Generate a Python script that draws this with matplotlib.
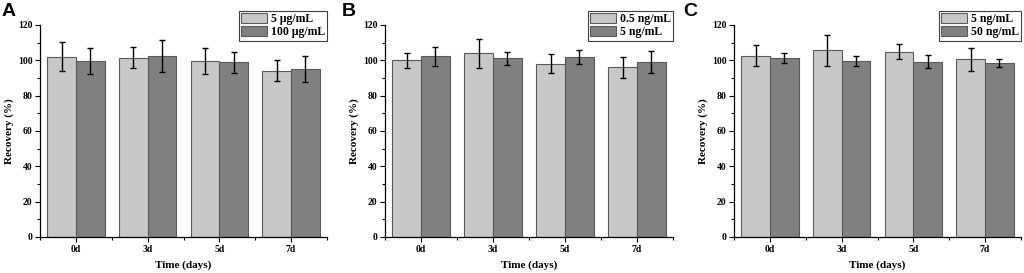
import numpy as np
from matplotlib import pyplot as plt
from matplotlib.ticker import MultipleLocator

days = ["0d", "3d", "5d", "7d"]

# panel A
a_labels = ["5 \u03bcg/mL", "100 \u03bcg/mL"]
a_low = [102.0, 101.5, 99.6, 94.2]
a_low_err = [8.3, 6.1, 7.3, 6.0]
a_high = [99.6, 102.5, 99.0, 95.1]
a_high_err = [7.1, 9.1, 6.0, 7.1]

# panel B
b_labels = ["0.5 ng/mL", "5 ng/mL"]
b_low = [100.0, 104.0, 98.2, 96.0]
b_low_err = [4.1, 8.3, 5.4, 5.8]
b_high = [102.4, 101.3, 101.8, 98.9]
b_high_err = [5.4, 3.7, 4.1, 6.3]

# panel C
c_labels = ["5 ng/mL", "50 ng/mL"]
c_low = [102.5, 105.7, 104.9, 100.6]
c_low_err = [5.9, 8.7, 4.3, 6.6]
c_high = [101.5, 99.6, 99.3, 98.6]
c_high_err = [2.9, 3.0, 3.7, 2.4]

panels = [
    ("A", a_labels, a_low, a_low_err, a_high, a_high_err),
    ("B", b_labels, b_low, b_low_err, b_high, b_high_err),
    ("C", c_labels, c_low, c_low_err, c_high, c_high_err),
]

serif = ["Liberation Serif", "DejaVu Serif"]
light = "#c8c8c8"
dark = "#808080"
edge = "#5a5a5a"

fig = plt.figure(figsize=(10.24, 2.73), dpi=100)

# axes boxes in pixels: left, right
boxes = [(40, 327), (385, 673), (734, 1021)]
letter_x = [2, 342, 683]
bottom_px, top_px = 237, 25

for (letter, labels, low, low_err, high, high_err), (l, r), lx in zip(panels, boxes, letter_x):
    ax = fig.add_axes([l / 1024, (273 - bottom_px) / 273, (r - l) / 1024, (bottom_px - top_px) / 273])
    x = np.arange(len(days))
    w = 0.4
    ax.bar(x - w / 2, low, w, color=light, edgecolor=edge, linewidth=0.8, label=labels[0])
    ax.bar(x + w / 2, high, w, color=dark, edgecolor=edge, linewidth=0.8, label=labels[1])
    ax.errorbar(x - w / 2, low, yerr=low_err, fmt="none", ecolor="black", elinewidth=1, capsize=2.2, capthick=1)
    ax.errorbar(x + w / 2, high, yerr=high_err, fmt="none", ecolor="black", elinewidth=1, capsize=2.2, capthick=1)

    ax.set_xlim(-0.5, 3.5)
    ax.set_ylim(0, 120)
    ax.set_xticks(x)
    ax.set_xticklabels(days)
    ax.set_xticks(np.arange(-0.5, 4, 1), minor=True)
    ax.yaxis.set_major_locator(MultipleLocator(20))
    ax.yaxis.set_minor_locator(MultipleLocator(10))
    ax.tick_params(which="major", direction="out", length=3.5, width=0.8, labelsize=7, pad=2)
    ax.tick_params(which="minor", direction="out", length=2, width=0.8)
    for t in ax.get_xticklabels() + ax.get_yticklabels():
        t.set_fontfamily(serif)
        t.set_fontweight("bold")

    ax.spines["top"].set_visible(False)
    ax.spines["right"].set_visible(False)
    ax.spines["left"].set_linewidth(0.9)
    ax.spines["bottom"].set_linewidth(0.9)

    ax.set_xlabel("Time (days)", fontsize=8, fontweight="bold", family=serif, labelpad=5)
    ax.set_ylabel("Recovery (%)", fontsize=8, fontweight="bold", family=serif, labelpad=3)

    leg = ax.legend(loc="upper right", bbox_to_anchor=(1.0, 1.068), borderaxespad=0,
                    prop={"family": serif, "weight": "bold", "size": 8.5},
                    fancybox=False, edgecolor="#404040", framealpha=1,
                    handlelength=2.2, handleheight=0.95, handletextpad=0.3,
                    labelspacing=0.12, borderpad=0.18)
    leg.get_frame().set_linewidth(0.8)

    fig.text(lx / 1024, 1 - 3 / 273, letter, fontsize=14, fontweight="bold",
             family="Liberation Sans", ha="left", va="top")

fig.savefig("out.png", dpi=100)
